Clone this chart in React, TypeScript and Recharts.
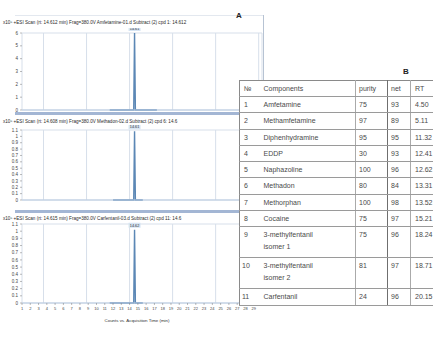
import { CartesianGrid, Line, LineChart, XAxis, YAxis } from "recharts";

// acquisition time axis (min) and the coarser grid lines
const timeTicks = [1, 2, 3, 4, 5, 6, 7, 8, 9, 10, 11, 12, 13, 14, 15, 16, 17, 18, 19, 20, 21, 22, 23, 24, 25, 26, 27, 28, 29];
const gridTimeTicks = [1, 3.6, 6.2, 8.8, 11.4, 14, 16.6, 19.2, 21.8, 24.4, 27, 29.6];

// panel 1
const scanTimes1 = [11.6, 14.5, 14.6, 14.7, 17.3];
const scanCounts1 = [0, 0, 6.0, 0, 0];
const countTicks1 = [0, 1, 2, 3, 4, 5, 6];

// panel 2
const scanTimes2 = [12.0, 14.5, 14.6, 14.7, 15.6];
const scanCounts2 = [0, 0, 1.08, 0, 0];
const countTicks2 = [0, 0.1, 0.2, 0.3, 0.4, 0.5, 0.6, 0.7, 0.8, 0.9, 1, 1.1];
const countGrid2 = [0, 0.2, 0.4, 0.6, 0.8, 1];

// panel 3
const scanTimes3 = [11.6, 14.5, 14.6, 14.7, 15.6];
const scanCounts3 = [0, 0, 1.02, 0, 0];
const countTicks3 = [0, 0.1, 0.2, 0.3, 0.4, 0.5, 0.6, 0.7, 0.8, 0.9, 1, 1.1];
const countGrid3 = [0, 0.2, 0.4, 0.6, 0.8, 1];

const panelTitles = [
	"x10⁵  +ESI Scan (rt: 14.612 min) Frag=380.0V Amfetamine-01.d  Subtract (2)  cpd 1: 14.612",
	"x10⁵  +ESI Scan (rt: 14.608 min) Frag=380.0V Methadon-02.d  Subtract (2)  cpd 6: 14.6",
	"x10⁵  +ESI Scan (rt: 14.615 min) Frag=380.0V Carfentanil-03.d  Subtract (2)  cpd 11: 14.6",
];
const peakLabels = ["14.61", "14.61", "14.62"];

// table B
const rowNumbers = ["1", "2", "3", "4", "5", "6", "7", "8", "9", "10", "11"];
const components = [
	["Amfetamine"],
	["Methamfetamine"],
	["Diphenhydramine"],
	["EDDP"],
	["Naphazoline"],
	["Methadon"],
	["Methorphan"],
	["Cocaine"],
	["3-methylfentanil", "isomer 1"],
	["3-methylfentanil", "isomer 2"],
	["Carfentanil"],
];
const purity = ["75", "97", "95", "30", "100", "80", "100", "75", "75", "81", "24"];
const netScore = ["93", "89", "95", "93", "96", "84", "98", "97", "96", "97", "96"];
const retention = ["4.50", "5.11", "11.32", "12.41", "12.62", "13.31", "13.52", "15.21", "18.24", "18.71", "20.15"];

const FONT = "'Liberation Sans', Arial, sans-serif";
const LINE_COLOR = "#5b87b5";
const GRID_COLOR = "#d7dfea";

interface PanelProps {
	top: number;
	height: number;
	marginTop: number;
	times: number[];
	counts: number[];
	yTicks: number[];
	yGrid: number[];
	yMax: number;
	peakText: string;
	showTimeAxis: boolean;
}

function ScanPanel({
	top,
	height,
	marginTop,
	times,
	counts,
	yTicks,
	yGrid,
	yMax,
	peakText,
	showTimeAxis,
}: PanelProps) {
	const data = times.map((t, i) => ({ t, counts: counts[i] }));
	const peakIndex = counts.indexOf(Math.max(...counts));

	const renderPeak = (p: any) => {
		if (p.index !== peakIndex) return <g key={`l${p.index}`} />;
		return (
			<g key={`l${p.index}`}>
				<rect x={p.x - 6} y={p.y - 7} width={12} height={5} fill="#d6e4f3" />
				<text
					x={p.x}
					y={p.y - 3.2}
					textAnchor="middle"
					fontSize={3.8}
					fill="#333"
					fontFamily={FONT}
				>
					{peakText}
				</text>
			</g>
		);
	};

	return (
		<div style={{ position: "absolute", left: 0, top }}>
			<LineChart
				width={264}
				height={height}
				data={data}
				margin={{ top: marginTop, right: 2, bottom: showTimeAxis ? 0 : 3, left: 0 }}
			>
				<XAxis
					xAxisId="t"
					dataKey="t"
					type="number"
					domain={[1, 30]}
					ticks={timeTicks}
					interval={0}
					height={showTimeAxis ? 14 : 1}
					tick={
						showTimeAxis
							? { fontSize: 4, fill: "#444", fontFamily: FONT }
							: false
					}
					tickLine={showTimeAxis ? { stroke: "#777", strokeWidth: 0.5 } : false}
					tickSize={2}
					axisLine={{ stroke: "#b9cbe0", strokeWidth: 1 }}
				/>
				<YAxis
					yAxisId="c"
					type="number"
					domain={[0, yMax]}
					ticks={yTicks}
					interval={0}
					width={22}
					tick={{ fontSize: 4.5, fill: "#444", fontFamily: FONT }}
					tickLine={{ stroke: "#777", strokeWidth: 0.5 }}
					tickSize={2}
					axisLine={false}
				/>
				<XAxis
					xAxisId="grid"
					dataKey="t"
					type="number"
					domain={[1, 30]}
					ticks={gridTimeTicks}
					height={0}
					hide
				/>
				<YAxis
					yAxisId="grid"
					type="number"
					domain={[0, yMax]}
					ticks={yGrid}
					width={0}
					hide
				/>
				<CartesianGrid
					xAxisId="grid"
					yAxisId="grid"
					stroke={GRID_COLOR}
					strokeWidth={1}
				/>
				<Line
					xAxisId="t"
					yAxisId="c"
					type="linear"
					dataKey="counts"
					stroke={LINE_COLOR}
					strokeWidth={1.4}
					dot={false}
					label={renderPeak}
					isAnimationActive={false}
				/>
			</LineChart>
		</div>
	);
}

function PanelTitle({ top, text }: { top: number; text: string }) {
	return (
		<div
			style={{
				position: "absolute",
				left: 3,
				top,
				fontSize: 4.6,
				lineHeight: "5px",
				color: "#2a2a2a",
				whiteSpace: "nowrap",
				fontFamily: FONT,
			}}
		>
			{text}
		</div>
	);
}

function Band({ top }: { top: number }) {
	return (
		<div
			style={{
				position: "absolute",
				left: 15,
				top,
				width: 249,
				height: 3,
				background: "#a3b6d4",
			}}
		/>
	);
}

const cellBase = {
	padding: 0,
	verticalAlign: "top" as const,
	paddingTop: 2,
	borderBottom: "1px solid #9a9a9a",
	lineHeight: "12px",
};

function ResultsTable() {
	const rowHeights = [16.3, 16.3, 16.3, 16.3, 16.3, 16.3, 16.3, 16.3, 31, 31, 17];
	return (
		<table
			style={{
				position: "absolute",
				left: 239,
				top: 80,
				width: 230,
				borderCollapse: "collapse",
				tableLayout: "fixed",
				background: "#fff",
				border: "1px solid #8a8a8a",
				fontFamily: FONT,
				fontSize: 7,
				color: "#4a4a4a",
			}}
		>
			<colgroup>
				<col style={{ width: 21 }} />
				<col style={{ width: 95 }} />
				<col style={{ width: 32 }} />
				<col style={{ width: 23 }} />
				<col style={{ width: 59 }} />
			</colgroup>
			<tbody>
				<tr style={{ height: 16 }}>
					<td style={{ ...cellBase, paddingLeft: 4 }}>№</td>
					<td style={{ ...cellBase, paddingLeft: 3 }}>Components</td>
					<td style={{ ...cellBase, paddingLeft: 3, borderLeft: "1px solid #aaa" }}>purity</td>
					<td style={{ ...cellBase, paddingLeft: 3, borderLeft: "1px solid #6f6f6f" }}>net</td>
					<td style={{ ...cellBase, paddingLeft: 4, borderLeft: "1px solid #aaa" }}>RT</td>
				</tr>
				{rowNumbers.map((n, i) => (
					<tr key={n} style={{ height: rowHeights[i] }}>
						<td style={{ ...cellBase, paddingLeft: n.length > 1 ? 2 : 4 }}>{n}</td>
						<td style={{ ...cellBase, paddingLeft: 3 }}>
							{components[i].map((part, k) => (
								<div key={k}>{part}</div>
							))}
						</td>
						<td style={{ ...cellBase, paddingLeft: 3, borderLeft: "1px solid #aaa" }}>{purity[i]}</td>
						<td style={{ ...cellBase, paddingLeft: 3, borderLeft: "1px solid #6f6f6f" }}>{netScore[i]}</td>
						<td style={{ ...cellBase, paddingLeft: 4, borderLeft: "1px solid #aaa" }}>{retention[i]}</td>
					</tr>
				))}
			</tbody>
		</table>
	);
}

export default function App() {
	return (
		<div
			style={{
				position: "absolute",
				left: 0,
				top: 0,
				width: 433,
				height: 345,
				overflow: "hidden",
				background: "#fff",
			}}
		>
			<div
				style={{
					position: "absolute",
					left: 15,
					top: 15,
					width: 248,
					height: 0,
					borderTop: "1px solid #e3e8ef",
				}}
			/>
			<div
				style={{
					position: "absolute",
					left: 263,
					top: 15,
					width: 0,
					height: 70,
					borderLeft: "1px solid #b7c3d3",
				}}
			/>
			<div
				style={{
					position: "absolute",
					left: 236,
					top: 11,
					fontFamily: FONT,
					fontWeight: "bold",
					fontSize: 8,
					color: "#222",
				}}
			>
				A
			</div>

			<PanelTitle top={20} text={panelTitles[0]} />
			<ScanPanel
				top={28}
				height={86}
				marginTop={5}
				times={scanTimes1}
				counts={scanCounts1}
				yTicks={countTicks1}
				yGrid={countTicks1}
				yMax={6}
				peakText={peakLabels[0]}
				showTimeAxis={false}
			/>
			<Band top={112} />

			<PanelTitle top={119} text={panelTitles[1]} />
			<ScanPanel
				top={125}
				height={79}
				marginTop={5}
				times={scanTimes2}
				counts={scanCounts2}
				yTicks={countTicks2}
				yGrid={countGrid2}
				yMax={1.1}
				peakText={peakLabels[1]}
				showTimeAxis={false}
			/>
			<Band top={210} />

			<PanelTitle top={216} text={panelTitles[2]} />
			<ScanPanel
				top={219}
				height={98}
				marginTop={5}
				times={scanTimes3}
				counts={scanCounts3}
				yTicks={countTicks3}
				yGrid={countGrid3}
				yMax={1.1}
				peakText={peakLabels[2]}
				showTimeAxis={true}
			/>
			<div
				style={{
					position: "absolute",
					left: 0,
					width: 274,
					top: 318,
					textAlign: "center",
					fontFamily: FONT,
					fontSize: 4.4,
					color: "#333",
				}}
			>
				Counts vs. Acquisition Time (min)
			</div>

			<div
				style={{
					position: "absolute",
					left: 403,
					top: 67,
					fontFamily: FONT,
					fontWeight: "bold",
					fontSize: 8,
					color: "#222",
				}}
			>
				B
			</div>
			<ResultsTable />
		</div>
	);
}
